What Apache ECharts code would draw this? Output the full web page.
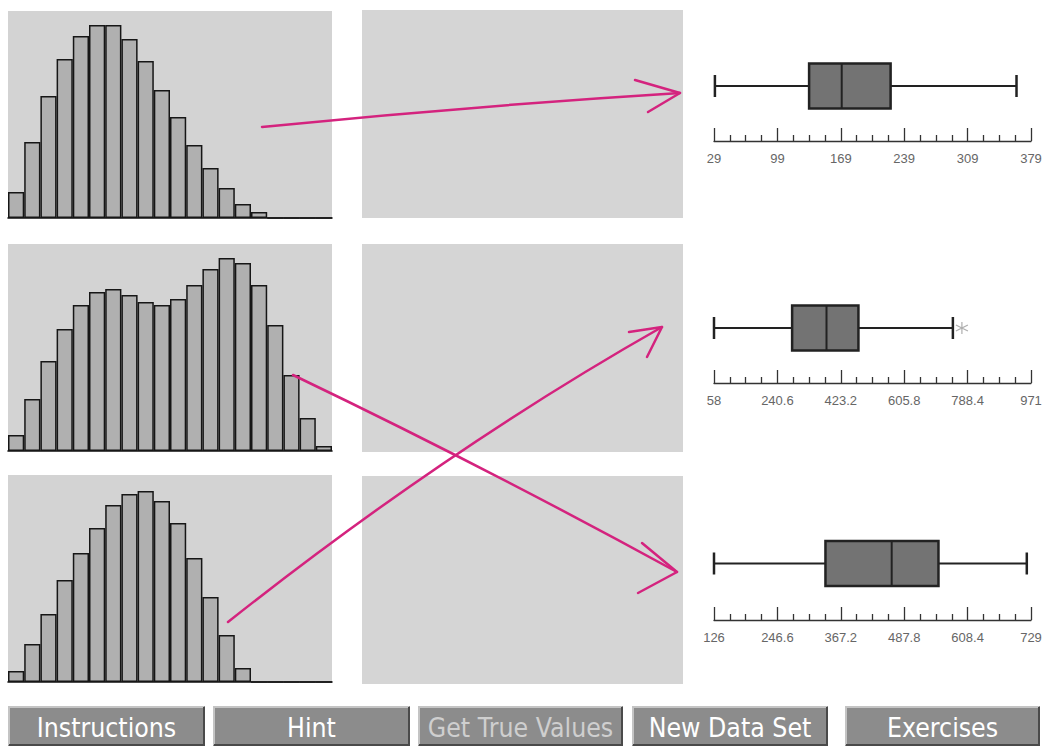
<!DOCTYPE html>
<html>
<head>
<meta charset="utf-8">
<script src="https://cdn.jsdelivr.net/npm/echarts@6/dist/echarts.min.js"></script>
<style>
html, body { margin: 0; padding: 0; background: #fff; }
#chart { width: 1046px; height: 749px; }
</style>
</head>
<body>
<div id="chart"></div>
<script>
// histogram bins and counts
var bins = ['1', '2', '3', '4', '5', '6', '7', '8', '9', '10', '11', '12', '13', '14', '15', '16', '17', '18', '19', '20'];
var hist1 = [26, 76, 122, 159, 182, 193, 193, 179, 157, 128, 101, 73, 50, 30, 14, 6, 0, 0, 0, 0];
var hist2 = [16, 52, 90, 122, 146, 159, 162, 156, 149, 146, 152, 166, 182, 193, 188, 166, 126, 76, 33, 5];
var hist3 = [11, 38, 68, 102, 129, 154, 177, 188, 191, 181, 159, 124, 85, 47, 14, 0, 0, 0, 0, 0];

// box plots: min, q1, median, q3, max
var box1 = [30, 134, 170, 224, 363];
var box2 = [58, 283, 382, 474, 746];
var box3 = [126, 338, 464, 553, 721];
var outliers2 = [772];

// axis ranges and tick labels of the box plots
var range1 = [29, 379];
var range2 = [58, 971];
var range3 = [126, 729];
var ticks1 = ['29', '99', '169', '239', '309', '379'];
var ticks2 = ['58', '240.6', '423.2', '605.8', '788.4', '971'];
var ticks3 = ['126', '246.6', '367.2', '487.8', '608.4', '729'];

var buttons = ['Instructions', 'Hint', 'Get True Values', 'New Data Set', 'Exercises'];

var chart = echarts.init(document.getElementById('chart'), null, { renderer: 'svg' });

var histTops = [11, 244, 475];
var boxTops = [31, 273, 507];
var boxHeights = [110, 110, 113];
var ranges = [range1, range2, range3];
var tickSets = [ticks1, ticks2, ticks3];
var boxes = [box1, box2, box3];
var hists = [hist1, hist2, hist3];
var pink = '#d4237e';

var grids = [], xAxes = [], yAxes = [], series = [];

hists.forEach(function (h, i) {
	grids.push({ left: 8, top: histTops[i], width: 324, height: 207, show: true,
		backgroundColor: '#d3d3d3', borderWidth: 0, outerBoundsMode: 'none' });
	xAxes.push({ type: 'category', gridIndex: i, data: bins,
		axisLine: { lineStyle: { color: '#111', width: 1.6 } },
		axisTick: { show: false }, axisLabel: { show: false } });
	yAxes.push({ type: 'value', gridIndex: i, min: 0, max: 207, show: false });
	series.push({ type: 'bar', xAxisIndex: i, yAxisIndex: i, data: h,
		barCategoryGap: '0%', silent: true,
		itemStyle: { color: '#b0b0b0', borderColor: '#161616', borderWidth: 1.5 } });
});

function boxItem(params, api) {
	var y = api.coord([0, 1])[1];
	var p = [0, 1, 2, 3, 4].map(function (k) { return api.coord([api.value(k), 1])[0]; });
	var h = 45, cap = 11;
	var ln = { stroke: '#222', lineWidth: 2 };
	return { type: 'group', children: [
		{ type: 'line', shape: { x1: p[0], y1: y, x2: p[1], y2: y }, style: ln },
		{ type: 'line', shape: { x1: p[3], y1: y, x2: p[4], y2: y }, style: ln },
		{ type: 'line', shape: { x1: p[0], y1: y - cap, x2: p[0], y2: y + cap }, style: { stroke: '#222', lineWidth: 2.5 } },
		{ type: 'line', shape: { x1: p[4], y1: y - cap, x2: p[4], y2: y + cap }, style: { stroke: '#222', lineWidth: 2.5 } },
		{ type: 'rect', shape: { x: p[1], y: y - h / 2, width: p[3] - p[1], height: h },
			style: { fill: '#737373', stroke: '#222', lineWidth: 2.5 } },
		{ type: 'line', shape: { x1: p[2], y1: y - h / 2, x2: p[2], y2: y + h / 2 }, style: ln }
	] };
}

boxes.forEach(function (b, i) {
	var g = 3 + i;
	var r = ranges[i];
	var span = r[1] - r[0];
	var labels = tickSets[i];
	grids.push({ left: 714, top: boxTops[i], width: 317, height: boxHeights[i], outerBoundsMode: 'none' });
	xAxes.push({ type: 'value', gridIndex: g, min: 0, max: span, interval: span / 5,
		axisLine: { lineStyle: { color: '#333', width: 1.3 } },
		axisTick: { inside: true, length: 13, lineStyle: { color: '#333', width: 1.3 } },
		minorTick: { show: true, splitNumber: 4, length: 6, lineStyle: { color: '#333', width: 1.3 } },
		splitLine: { show: false },
		axisLabel: { color: '#666', fontSize: 13, fontFamily: 'Liberation Sans', margin: 11,
			formatter: function (v, idx) { return labels[idx]; } } });
	yAxes.push({ type: 'value', gridIndex: g, min: 0, max: 2, show: false });
	series.push({ type: 'custom', xAxisIndex: g, yAxisIndex: g, silent: true,
		renderItem: boxItem,
		data: [b.map(function (v) { return v - r[0]; }).concat([1])] });
});

series.push({ type: 'scatter', xAxisIndex: 4, yAxisIndex: 4, silent: true,
	symbol: 'path://M6,0L6,12M0.8,3L11.2,9M0.8,9L11.2,3', symbolSize: 12,
	itemStyle: { color: 'rgba(0,0,0,0)', borderColor: '#9a9a9a', borderWidth: 1.2 },
	data: outliers2.map(function (v) { return [v - range2[0], 1]; }) });

var graphics = [];
[10, 244, 476].forEach(function (t) {
	graphics.push({ type: 'rect', z: -10, shape: { x: 362, y: t, width: 321, height: 208 },
		style: { fill: '#d5d5d5' } });
});

// hand-drawn arrows
var arrowStyle = { stroke: pink, lineWidth: 2.5, fill: 'none', lineCap: 'round', lineJoin: 'round' };
graphics.push({ type: 'bezierCurve', z: 100, shape: { x1: 262, y1: 127, x2: 680, y2: 93, cpx1: 471, cpy1: 106 }, style: arrowStyle });
graphics.push({ type: 'polyline', z: 100, shape: { points: [[635, 80], [680, 93], [648, 112]] }, style: arrowStyle });
graphics.push({ type: 'bezierCurve', z: 100, shape: { x1: 228, y1: 622, x2: 662, y2: 327, cpx1: 445, cpy1: 450 }, style: arrowStyle });
graphics.push({ type: 'polyline', z: 100, shape: { points: [[629, 332], [662, 327], [647, 357]] }, style: arrowStyle });
graphics.push({ type: 'bezierCurve', z: 100, shape: { x1: 293, y1: 375, x2: 677, y2: 572, cpx1: 485, cpy1: 467 }, style: arrowStyle });
graphics.push({ type: 'polyline', z: 100, shape: { points: [[642, 543], [677, 572], [638, 593]] }, style: arrowStyle });

// buttons
var btnX = [[8, 205], [213, 410], [418, 623], [632, 828], [845, 1040]];
buttons.forEach(function (name, i) {
	var x0 = btnX[i][0], x1 = btnX[i][1], y0 = 706, y1 = 746;
	graphics.push({ type: 'rect', shape: { x: x0, y: y0, width: x1 - x0, height: y1 - y0 },
		style: { fill: '#8c8c8c' } });
	graphics.push({ type: 'polyline', shape: { points: [[x0 + 1, y1 - 1], [x0 + 1, y0 + 1], [x1 - 1, y0 + 1]] },
		style: { stroke: '#c4c4c4', lineWidth: 2, fill: 'none' } });
	graphics.push({ type: 'polyline', shape: { points: [[x0 + 1, y1 - 1], [x1 - 1, y1 - 1], [x1 - 1, y0 + 1]] },
		style: { stroke: '#4a4a4a', lineWidth: 2, fill: 'none' } });
	graphics.push({ type: 'text', x: (x0 + x1) / 2, y: (y0 + y1) / 2 + 1, scaleX: 0.88, z: 5,
		style: { text: name, fill: i === 2 ? '#cfcfcf' : '#ffffff', font: '27px "DejaVu Sans"',
			textAlign: 'center', textVerticalAlign: 'middle' } });
});

chart.setOption({
	animation: false,
	backgroundColor: '#ffffff',
	grid: grids,
	xAxis: xAxes,
	yAxis: yAxes,
	series: series,
	graphic: { elements: graphics }
});
</script>
</body>
</html>
